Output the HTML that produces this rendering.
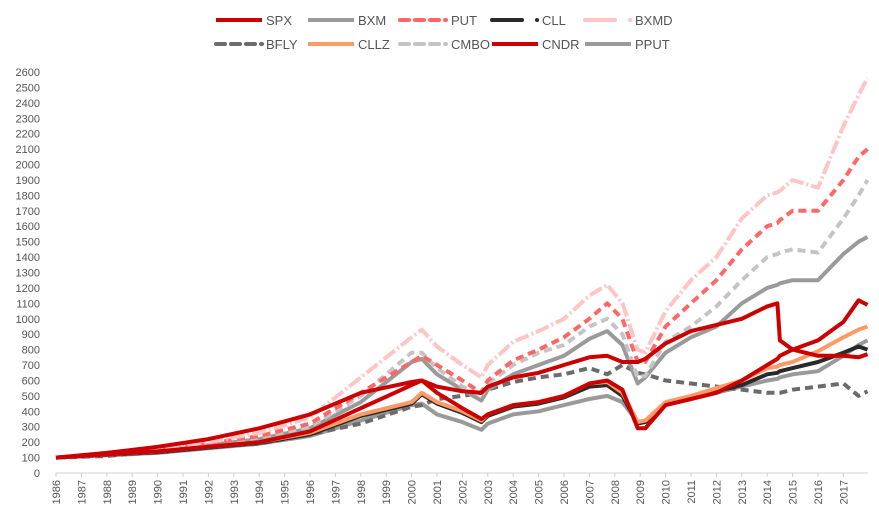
<!DOCTYPE html>
<html><head><meta charset="utf-8"><style>
body{margin:0;background:#fff;width:879px;height:519px;overflow:hidden;font-family:"Liberation Sans",sans-serif}
svg text{font-family:"Liberation Sans",sans-serif;fill:#555}
</style></head><body>
<svg id="c" width="879" height="519"></svg>
<script>
const dates=[1986,1988,1990,1992,1994,1996,1998,2000,2000.4,2001,2002,2002.75,2003,2004,2005,2006,2007,2007.7,2008.3,2008.9,2009.2,2010,2011,2012,2013,2014,2014.4,2014.5,2015,2016,2017,2017.6,2017.95];
const spx=[100,130,170,220,290,380,520,590,600,560,530,520,560,620,650,700,750,760,720,720,740,840,920,960,1000,1080,1100,860,800,760,760,750,770];
const cndr=[100,120,140,170,200,270,420,570,600,520,420,350,380,440,460,500,580,600,540,290,290,440,480,520,600,700,740,760,800,860,980,1120,1090];
const bxmd=[100,130,160,200,260,360,620,880,930,820,700,620,700,850,920,1000,1150,1220,1100,800,780,1050,1250,1400,1650,1800,1820,1830,1900,1850,2250,2450,2560];
const put=[100,125,150,190,240,320,520,720,760,700,600,520,600,730,800,880,1000,1100,1000,720,720,950,1100,1250,1450,1600,1620,1640,1700,1700,1900,2050,2100];
const cmbo=[100,120,145,185,230,300,500,780,780,680,560,500,580,700,780,830,950,1000,900,620,630,850,950,1080,1250,1400,1420,1430,1450,1430,1650,1800,1900];
const bxm=[100,120,140,180,220,290,460,720,740,640,540,470,540,640,700,760,870,920,830,580,620,780,880,950,1100,1200,1220,1230,1250,1250,1420,1500,1530];
const bfly=[100,110,140,170,190,250,320,430,440,480,500,520,540,590,620,640,680,640,700,650,640,600,580,560,540,520,520,520,540,560,580,500,530];
const cllz=[100,120,140,170,200,260,380,460,520,460,400,340,380,440,460,500,580,590,520,330,340,460,500,550,600,680,690,700,720,790,880,930,950];
const cll=[100,118,135,165,195,250,370,450,510,450,390,330,370,430,450,490,560,570,500,320,330,450,490,530,570,640,650,660,680,720,780,820,800];
const pput=[100,115,130,160,190,240,340,440,450,380,330,280,320,380,400,440,480,500,460,330,340,440,480,520,560,600,610,620,640,660,760,830,860];
const yTicks=[0,100,200,300,400,500,600,700,800,900,1000,1100,1200,1300,1400,1500,1600,1700,1800,1900,2000,2100,2200,2300,2400,2500,2600];
const xYears=[1986,1987,1988,1989,1990,1991,1992,1993,1994,1995,1996,1997,1998,1999,2000,2001,2002,2003,2004,2005,2006,2007,2008,2009,2010,2011,2012,2013,2014,2015,2016,2017];

const NS='http://www.w3.org/2000/svg';
const svg=document.getElementById('c');
const X=y=>56+(y-1986)*25.4;
const Y=v=>473-v*(401/2600);
function mk(t,a,p){const e=document.createElementNS(NS,t);for(const k in a)e.setAttribute(k,a[k]);(p||svg).appendChild(e);return e;}

const axis=mk('g',{});


mk('line',{x1:56,y1:473,x2:868,y2:473,stroke:'#d0d0d0','stroke-width':1},axis);
yTicks.forEach(v=>{const t=mk('text',{x:40,y:Y(v)+4,'text-anchor':'end','font-size':11},axis);t.textContent=v;

});
xYears.forEach(yr=>{mk('line',{x1:X(yr),y1:473,x2:X(yr),y2:477,stroke:'#d0d0d0'},axis);
const t=mk('text',{x:0,y:0,'text-anchor':'end','font-size':11,transform:`translate(${X(yr)+4},480) rotate(-90)`},axis);t.textContent=yr;

});

const series=[
 ['pput',pput,'#9a9a9a',''],['bfly',bfly,'#6b6b6b','8 5'],['cll',cll,'#2a2a2a',''],['cllz',cllz,'#ff9966',''],
 ['bxm',bxm,'#9a9a9a',''],['cmbo',cmbo,'#c4c4c4','8 5'],['put',put,'#ff6666','8 5'],['bxmd',bxmd,'#ffc4c4','14 3 2 3'],
 ['cndr',cndr,'#cc0000',''],['spx',spx,'#cc0000','']];
series.forEach(([n,vals,col,da])=>{
 const d=vals.map((v,i)=>(i?'L':'M')+X(dates[i]).toFixed(1)+','+Y(v).toFixed(1)).join('');
 const p=mk('path',{d:d,fill:'none',stroke:col,'stroke-width':4,'stroke-dasharray':da,'stroke-linejoin':'round'});
 
 
});

const leg=[['SPX','#cc0000','',216,20],['BXM','#9a9a9a','',308,20],['PUT','#ff6666','9 6',400,20],['CLL','#2a2a2a','dot',492,20],['BXMD','#ffc4c4','dot',585,20],
['BFLY','#6b6b6b','9 6',216,44],['CLLZ','#ff9966','',308,44],['CMBO','#c4c4c4','9 6',400,44],['CNDR','#cc0000','',492,44],['PPUT','#9a9a9a','',585,44]];
leg.forEach(([n,col,da,x,y])=>{
 const g=mk('g',{});
 
 
 if(da==='dot'){mk('line',{x1:x,y1:y,x2:x+30,y2:y,stroke:col,'stroke-width':4,'stroke-linecap':'round'},g);mk('circle',{cx:x+45,cy:y,r:2,fill:col},g);}
 else mk('line',{x1:x,y1:y,x2:x+46,y2:y,stroke:col,'stroke-width':4,'stroke-dasharray':da,'stroke-linecap':da?'round':'butt'},g);
 const t=mk('text',{x:(n==='PUT'||n==='CMBO')?x+51:x+50,y:y+5,'font-size':13},g);t.textContent=n;
});
</script>
</body></html>
